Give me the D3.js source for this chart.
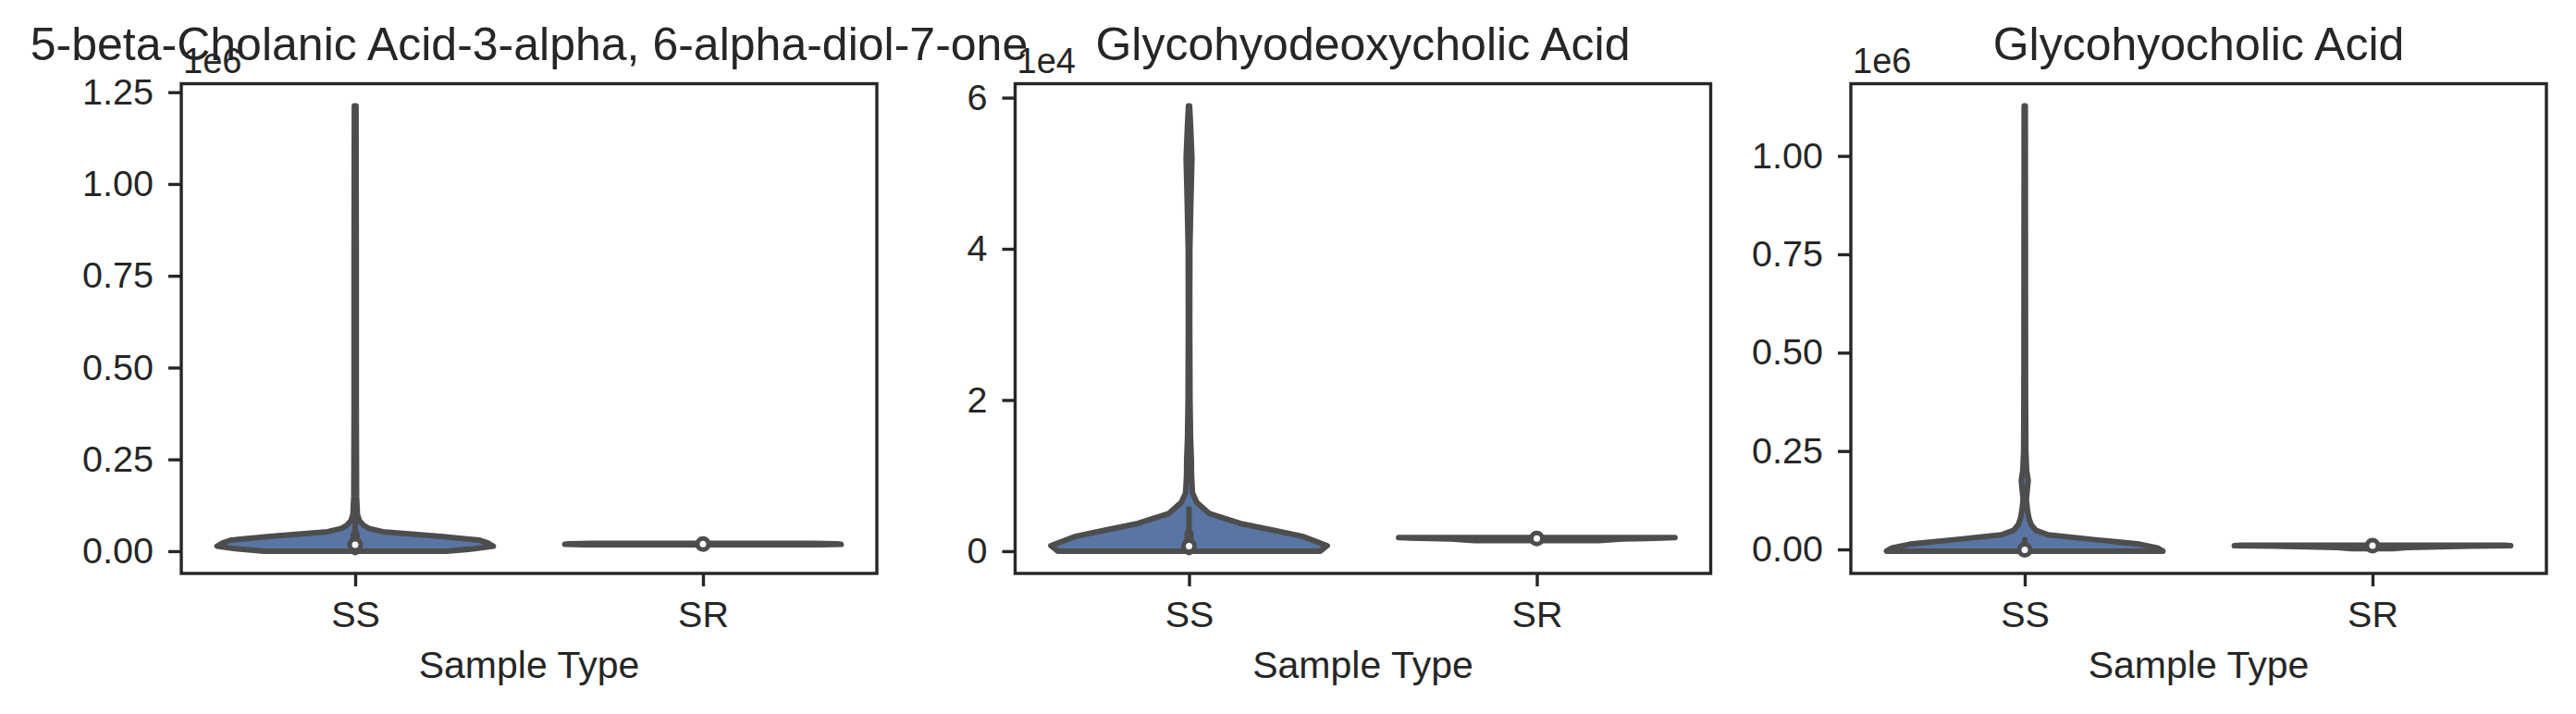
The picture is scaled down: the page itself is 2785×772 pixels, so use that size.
<!DOCTYPE html>
<html><head><meta charset="utf-8">
<script src="https://cdn.jsdelivr.net/npm/d3@7"></script>
<style>
body{margin:0;background:#fff}
svg text{font-family:"Liberation Sans",Arial,sans-serif;fill:#262626}
</style>
</head><body><svg id="chart" width="2785" height="772"></svg>
<script>
// ---------------- data ----------------
const titles = ["5-beta-Cholanic Acid-3-alpha, 6-alpha-diol-7-one", "Glycohyodeoxycholic Acid", "Glycohyocholic Acid"];
const categories = ["SS", "SR"];
const xLabel = "Sample Type";
const offsetLabels = ["1e6", "1e4", "1e6"];
const yTicks1 = [0, 0.25, 0.5, 0.75, 1.0, 1.25];
const yTicks2 = [0, 2, 4, 6];
const yTicks3 = [0, 0.25, 0.5, 0.75, 1.0];
const yTickFormats = [".2f", "d", ".2f"];

// violin density profiles: [value (in offset units), relative half-width]
const ss1 = [[0,0.66],[0.006,0.85],[0.0134,1.0],[0.022,0.96],[0.030,0.90],[0.040,0.62],[0.053,0.20],[0.062,0.10],[0.070,0.062],[0.083,0.031],[0.10,0.016],[0.15,0.01],[0.4,0.008],[0.8,0.008],[1.2125,0.006]];
const sr1 = [[0.0172,0.85],[0.0185,1.0],[0.0200,0.97],[0.0212,0.8]];
const ss2 = [[0,0.95],[0.073,1.0],[0.196,0.82],[0.28,0.6],[0.367,0.37],[0.50,0.145],[0.645,0.056],[0.77,0.025],[1.0,0.018],[1.2,0.017],[1.5,0.011],[2.0,0.007],[3.0,0.005],[4.0,0.006],[4.6,0.013],[5.2,0.021],[5.6,0.012],[5.89,0.004]];
const sr2 = [[0.14,0.45],[0.16,0.62],[0.17,0.85],[0.18,1.0]];
const ss3 = [[-0.0045,1.0],[0.004,0.96],[0.0134,0.83],[0.025,0.5],[0.037,0.17],[0.0486,0.08],[0.064,0.045],[0.08,0.03],[0.10,0.02],[0.127,0.012],[0.15,0.018],[0.175,0.025],[0.20,0.014],[0.25,0.008],[0.4,0.006],[0.8,0.005],[1.127,0.004]];
const sr3 = [[0.002,0.15],[0.005,0.25],[0.008,0.7],[0.0095,1.0],[0.0105,0.95]];

// inner box stats: [whisker low, q1, median, q3, whisker high]
const ssBox1 = [0, 0.001, 0.0176, 0.045, 0.11];
const srBox1 = [0.0172, 0.018, 0.0194, 0.0205, 0.0212];
const ssBox2 = [0, 0.005, 0.065, 0.23, 0.56];
const srBox2 = [0.14, 0.15, 0.168, 0.176, 0.18];
const ssBox3 = [-0.0045, -0.003, -0.001, 0.008, 0.025];
const srBox3 = [0.002, 0.006, 0.0094, 0.0102, 0.0105];

// ---------------- layout ----------------
const panels = [
  {title: titles[0], offset: offsetLabels[0], ticks: yTicks1, fmt: yTickFormats[0], violins: [ss1, sr1], boxes: [ssBox1, srBox1]},
  {title: titles[1], offset: offsetLabels[1], ticks: yTicks2, fmt: yTickFormats[1], violins: [ss2, sr2], boxes: [ssBox2, srBox2]},
  {title: titles[2], offset: offsetLabels[2], ticks: yTicks3, fmt: yTickFormats[2], violins: [ss3, sr3], boxes: [ssBox3, srBox3]}
];
const axLefts = [196, 1097.5, 2001];
const axWidth = 752;
const axTop = 90.5, axBottom = 620;
const fillColor = "#5875a4", lineColor = "#4d4d4d", axisColor = "#262626";
const lw = 6;

const svg = d3.select("#chart");

panels.forEach((p, i) => {
  const left = axLefts[i], right = left + axWidth;
  const g = svg.append("g");
  const allVals = p.violins.flat().map(d => d[0]);
  const mn = d3.min(allVals), mx = d3.max(allVals);
  const pad = 0.05 * (mx - mn);
  const y = d3.scaleLinear().domain([mn - pad, mx + pad]).range([axBottom, axTop]);
  const x = d3.scalePoint().domain(categories).range([left, right]).padding(0.5);
  const halfW = 0.4 * x.step() - 1;

  // violins
  p.violins.forEach((prof, j) => {
    const cx = x(categories[j]);
    const area = d3.area()
      .y(d => y(d[0]))
      .x0(d => cx - d[1] * halfW)
      .x1(d => cx + d[1] * halfW)
      .curve(d3.curveLinear);
    g.append("path").attr("d", area(prof))
      .attr("fill", fillColor).attr("stroke", lineColor)
      .attr("stroke-width", lw).attr("stroke-linejoin", "round").attr("stroke-linecap", "round");
  });

  // inner boxes
  p.boxes.forEach((b, j) => {
    const cx = x(categories[j]);
    g.append("line").attr("x1", cx).attr("x2", cx).attr("y1", y(b[0])).attr("y2", y(b[4]))
      .attr("stroke", lineColor).attr("stroke-width", lw).attr("stroke-linecap", "round");
    g.append("line").attr("x1", cx).attr("x2", cx).attr("y1", y(b[1])).attr("y2", y(b[3]))
      .attr("stroke", lineColor).attr("stroke-width", 10).attr("stroke-linecap", "round");
    g.append("circle").attr("cx", cx).attr("cy", y(b[2])).attr("r", 6)
      .attr("fill", "#fff").attr("stroke", lineColor).attr("stroke-width", 5);
  });

  // y axis
  const yAxis = d3.axisLeft(y).tickValues(p.ticks).tickFormat(d3.format(p.fmt)).tickSize(14).tickPadding(16);
  const ya = g.append("g").attr("transform", `translate(${left},0)`).call(yAxis);
  ya.select(".domain").remove();
  ya.selectAll(".tick line").attr("stroke", axisColor).attr("stroke-width", 3.4);
  ya.selectAll(".tick text").attr("font-size", 39.5).style("fill", axisColor);

  // x axis
  const xAxis = d3.axisBottom(x).tickSize(14).tickPadding(16);
  const xa = g.append("g").attr("transform", `translate(0,${axBottom})`).call(xAxis);
  xa.select(".domain").remove();
  xa.selectAll(".tick line").attr("stroke", axisColor).attr("stroke-width", 3.4);
  xa.selectAll(".tick text").attr("font-size", 39.5).style("fill", axisColor);

  // frame
  g.append("rect").attr("x", left).attr("y", axTop).attr("width", axWidth).attr("height", axBottom - axTop)
    .attr("fill", "none").attr("stroke", axisColor).attr("stroke-width", 3.4);

  // labels
  g.append("text").attr("x", (left + right) / 2).attr("y", 733).attr("text-anchor", "middle")
    .attr("font-size", 41).text(xLabel);
  g.append("text").attr("x", left + 2).attr("y", 79).attr("font-size", 38).text(p.offset);
  g.append("text").attr("x", (left + right) / 2).attr("y", 65).attr("text-anchor", "middle")
    .attr("font-size", 50).text(p.title);
});
</script>
</body></html>
